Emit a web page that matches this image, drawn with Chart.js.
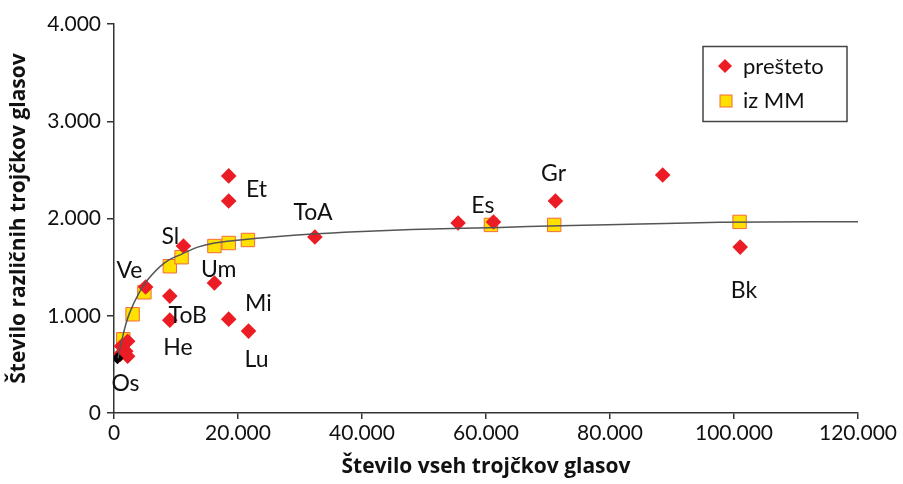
<!DOCTYPE html>
<html>
<head>
<meta charset="utf-8">
<script src="https://cdn.jsdelivr.net/npm/chart.js@4"></script>
<style>
html, body { margin: 0; padding: 0; background: #fff; }
</style>
</head>
<body>
<canvas id="glasoviChart" width="903" height="484"></canvas>
<script>
// prešteto (rdeči karo)
const prestetoX = [18500, 18500, 11200, 5100, 9000, 9000, 16200, 18500, 21700, 32400,
    55500, 61200, 71200, 88500, 101000, 2200, 1200, 1900, 1050, 2200];
const prestetoY = [2438, 2180, 1717, 1295, 1202, 955, 1336, 965, 842, 1810,
    1954, 1964, 2180, 2448, 1706, 738, 687, 635, 605, 584];

// iz MM (rumeni kvadrat)
const mmX = [1500, 3000, 4900, 9000, 10900, 16200, 18500, 21600, 60800, 71000, 100900];
const mmY = [758, 1015, 1241, 1509, 1602, 1717, 1748, 1779, 1934, 1934, 1965];

// krivulja (odčitano s slike)
const krivuljaX = [650, 1160, 1860, 2500, 4100, 5400, 8100, 10900, 13500, 16200, 20300,
    26000, 32000, 39000, 48000, 62200, 72000, 84900, 97800, 120000];
const krivuljaY = [563, 718, 903, 1027, 1243, 1367, 1542, 1634, 1706, 1748, 1778,
    1812, 1840, 1864, 1886, 1908, 1926, 1944, 1961, 1967];

// črna oznaka v izhodišču
const crnaX = [550];
const crnaY = [563];

// oznake korpusov
const oznake = ["Os", "He", "ToB", "Ve", "Sl", "Um", "Mi", "Lu", "Et", "ToA", "Es", "Gr", "Bk"];
const oznakeX = [1850, 10300, 11900, 2500, 9100, 16900, 23300, 23000, 23000, 32100, 59500, 70900, 101600];
const oznakeY = [302, 673, 1003, 1460, 1810, 1470, 1130, 553, 2300, 2056, 2128, 2458, 1263];

const xTicks = [0, 20000, 40000, 60000, 80000, 100000, 120000];
const yTicks = [0, 1000, 2000, 3000, 4000];

function toPoints(xs, ys) {
    return xs.map((x, i) => ({ x: x, y: ys[i] }));
}

function formatNum(v) {
    return String(v).replace(/\B(?=(\d{3})+(?!\d))/g, ".");
}

const pisava = "Lato, 'Noto Sans', sans-serif";
const pisavaNaslov = "'Open Sans', 'Noto Sans', sans-serif";
const rdeca = "#ec1c24";
const rumena = "#ffe000";
const oranzna = "#f26b3a";

// imena korpusov ob točkah
const oznakePlugin = {
    id: "oznake",
    afterDatasetsDraw(chart) {
        const ctx = chart.ctx;
        const xs = chart.scales.x, ys = chart.scales.y;
        ctx.save();
        ctx.font = "23px " + pisava;
        ctx.fillStyle = "#111";
        ctx.textAlign = "center";
        ctx.textBaseline = "middle";
        oznake.forEach((t, i) => {
            ctx.fillText(t, xs.getPixelForValue(oznakeX[i]), ys.getPixelForValue(oznakeY[i]));
        });
        ctx.restore();
    }
};

// legenda z okvirjem
const legendaPlugin = {
    id: "legenda",
    afterDraw(chart) {
        const ctx = chart.ctx;
        ctx.save();
        ctx.strokeStyle = "#444";
        ctx.lineWidth = 1.5;
        ctx.strokeRect(703, 46.5, 144, 75);

        // karo
        ctx.fillStyle = rdeca;
        ctx.beginPath();
        ctx.moveTo(725, 59);
        ctx.lineTo(732, 66);
        ctx.lineTo(725, 73);
        ctx.lineTo(718, 66);
        ctx.closePath();
        ctx.fill();

        // kvadrat
        ctx.fillStyle = rumena;
        ctx.strokeStyle = oranzna;
        ctx.lineWidth = 1;
        ctx.fillRect(720, 95, 12, 12);
        ctx.strokeRect(720, 95, 12, 12);

        ctx.fillStyle = "#111";
        ctx.font = "22px " + pisava;
        ctx.textAlign = "left";
        ctx.textBaseline = "middle";
        ctx.fillText("prešteto", 743, 67);
        ctx.fillText("iz MM", 743, 101);
        ctx.restore();
    }
};

const ctx = document.getElementById("glasoviChart").getContext("2d");
const glasoviChart = new Chart(ctx, {
    type: "scatter",
    data: {
        datasets: [
            {
                label: "krivulja",
                data: toPoints(krivuljaX, krivuljaY),
                showLine: true,
                borderColor: "#555",
                borderWidth: 1.5,
                pointRadius: 0,
                cubicInterpolationMode: "monotone",
                order: 0
            },
            {
                label: "",
                data: toPoints(crnaX, crnaY),
                pointStyle: "rectRot",
                pointRadius: 6,
                backgroundColor: "#000",
                borderWidth: 0,
                order: 1
            },
            {
                label: "prešteto",
                data: toPoints(prestetoX, prestetoY),
                pointStyle: "rectRot",
                pointRadius: 7.8,
                backgroundColor: rdeca,
                borderWidth: 0,
                order: 2
            },
            {
                label: "iz MM",
                data: toPoints(mmX, mmY),
                pointStyle: "rect",
                pointRadius: 9.5,
                backgroundColor: rumena,
                borderColor: oranzna,
                borderWidth: 1,
                order: 3
            }
        ]
    },
    options: {
        responsive: false,
        animation: false,
        devicePixelRatio: 1,
        layout: { padding: { top: 24, right: 45, left: 0, bottom: 0 } },
        plugins: {
            legend: { display: false },
            tooltip: { enabled: false }
        },
        scales: {
            x: {
                type: "linear",
                min: 0,
                max: 120000,
                afterFit: (s) => { s.height = 71; },
                afterBuildTicks: (s) => { s.ticks = xTicks.map(v => ({ value: v })); },
                grid: { drawOnChartArea: false, color: "#333", tickLength: 6, lineWidth: 1.5 },
                border: { color: "#333", width: 1.5 },
                ticks: {
                    padding: 2,
                    color: "#111",
                    font: { family: pisava, size: 21 },
                    maxRotation: 0,
                    callback: (v) => formatNum(v)
                },
                title: {
                    display: true,
                    text: "Število vseh trojčkov glasov",
                    color: "#111",
                    font: { family: pisavaNaslov, size: 21, weight: "bold" },
                    padding: { top: 0, bottom: 4 }
                }
            },
            y: {
                type: "linear",
                min: 0,
                max: 4000,
                afterFit: (s) => { s.width = 114; },
                afterBuildTicks: (s) => { s.ticks = yTicks.map(v => ({ value: v })); },
                grid: { drawOnChartArea: false, color: "#333", tickLength: 7, lineWidth: 1.5 },
                border: { color: "#333", width: 1.5 },
                ticks: {
                    padding: 6,
                    color: "#111",
                    font: { family: pisava, size: 21 },
                    callback: (v) => formatNum(v)
                },
                title: {
                    display: true,
                    text: "Število različnih trojčkov glasov",
                    color: "#111",
                    font: { family: pisavaNaslov, size: 21, weight: "bold" },
                    padding: { top: 6, bottom: 0 }
                }
            }
        }
    },
    plugins: [oznakePlugin, legendaPlugin]
});
</script>
</body>
</html>
